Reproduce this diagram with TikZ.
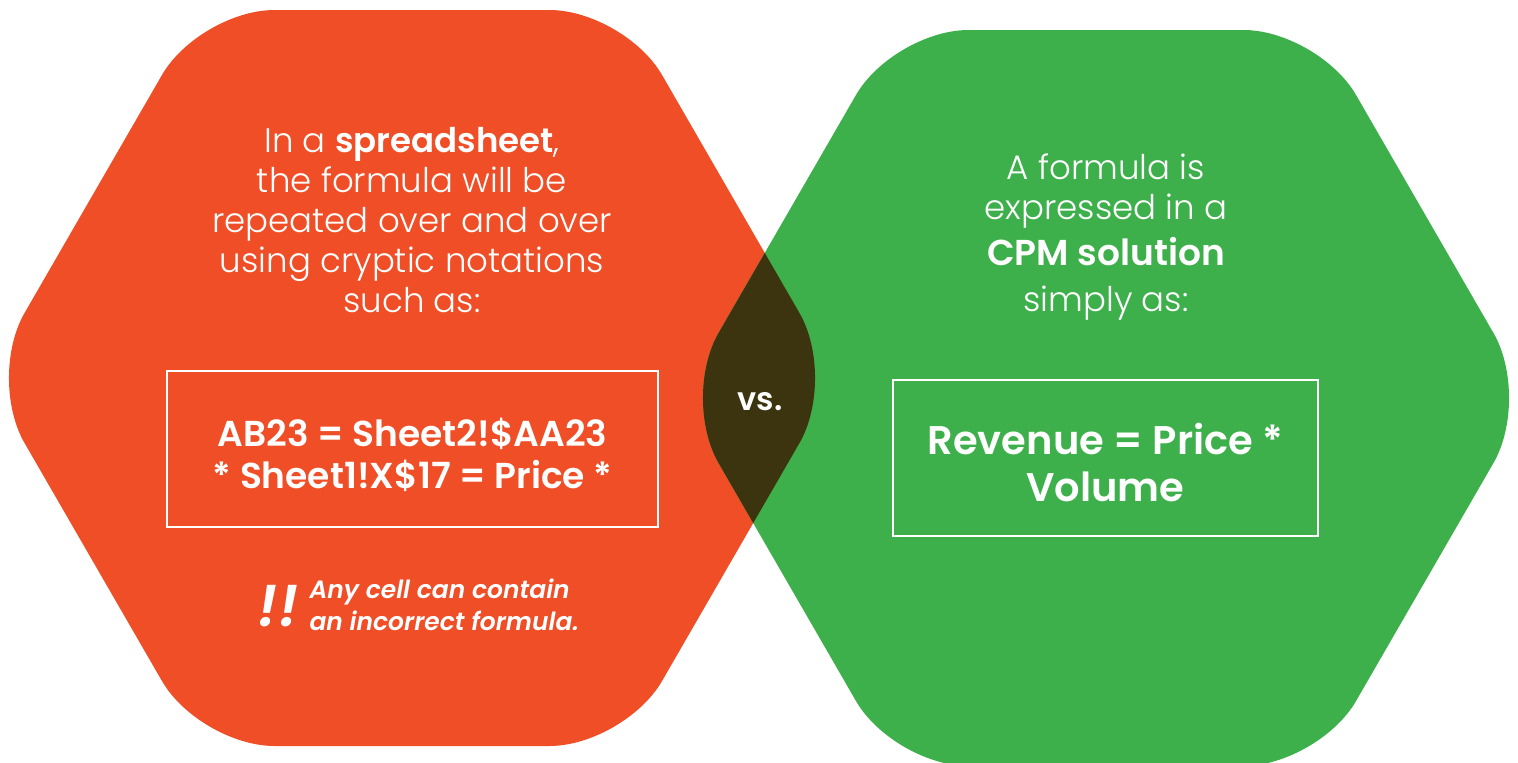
\documentclass[tikz,border=0pt]{standalone}
\usepackage{fontspec}
\setmainfont{Poppins}[UprightFont={* Light},BoldFont={* SemiBold},ItalicFont={* Light Italic},BoldItalicFont={* SemiBold Italic}]
\definecolor{hexorange}{HTML}{F04E27}
\definecolor{hexgreen}{HTML}{3EB04B}
\definecolor{hexdark}{HTML}{3C340F}
\newcommand{\hexshape}[3]{
    \path[#1, rounded corners=75pt] (#2,#3-368) -- (#2+212.5,#3-368) -- (#2+425,#3)
        -- (#2+212.5,#3+368) -- (#2-212.5,#3+368) -- (#2-425,#3)
        -- (#2-212.5,#3-368) -- cycle;
}
\tikzset{
    intro/.style={text=white, align=center, font=\fontsize{34}{40}\selectfont},
    formulabox/.style={draw=white, line width=1.5pt, text=white, align=center,
        inner sep=0pt, font=\bfseries\fontsize{36}{42}\selectfont},
}

\begin{document}
\begin{tikzpicture}[x=1pt,y=-1pt]
    \useasboundingbox (0,0) rectangle (1518,763);
    \begin{scope}
        \clip (0,0) rectangle (1518,763);
        \hexshape{fill=hexorange}{412}{378}
        \hexshape{fill=hexgreen}{1106}{398}
        % overlap of the two
        \begin{scope}
            \hexshape{clip}{412}{378}
            \hexshape{fill=hexdark}{1106}{398}
        \end{scope}
    \end{scope}

    \node[intro] (spread) at (412,220) {In a \textbf{spreadsheet},\\ the formula will be\\ repeated over and over\\ using cryptic notations\\ such as:};
    \node[formulabox, minimum width=491pt, minimum height=156pt] (spreadbox) at (412.5,449) {\rule{0pt}{40pt}AB23 = Sheet2!\$AA23\\ * Sheet1!X\$17 = Price *};

    \node[text=white, font=\bfseries\itshape\fontsize{58}{58}\selectfont] (warnmark) at (278,606) {!!};
    \node[text=white, anchor=west, align=left, font=\bfseries\itshape\fontsize{25}{32}\selectfont] (warntext) at (306,605) {Any cell can contain\\ an incorrect formula.};

    \node[text=white, font=\bfseries\fontsize{32}{32}\selectfont] (vs) at (760,402) {vs.};

    \node[intro] (cpm) at (1106,237) {A formula is\\ expressed in a\\[6pt] {\bfseries\fontsize{36}{40}\selectfont CPM solution}\\[6pt] simply as:};
    \node[formulabox, minimum width=425pt, minimum height=156pt, font=\bfseries\fontsize{40}{47}\selectfont] (cpmbox) at (1105.5,458) {\rule{0pt}{41pt}Revenue = Price *\\ Volume};
\end{tikzpicture}
\end{document}
